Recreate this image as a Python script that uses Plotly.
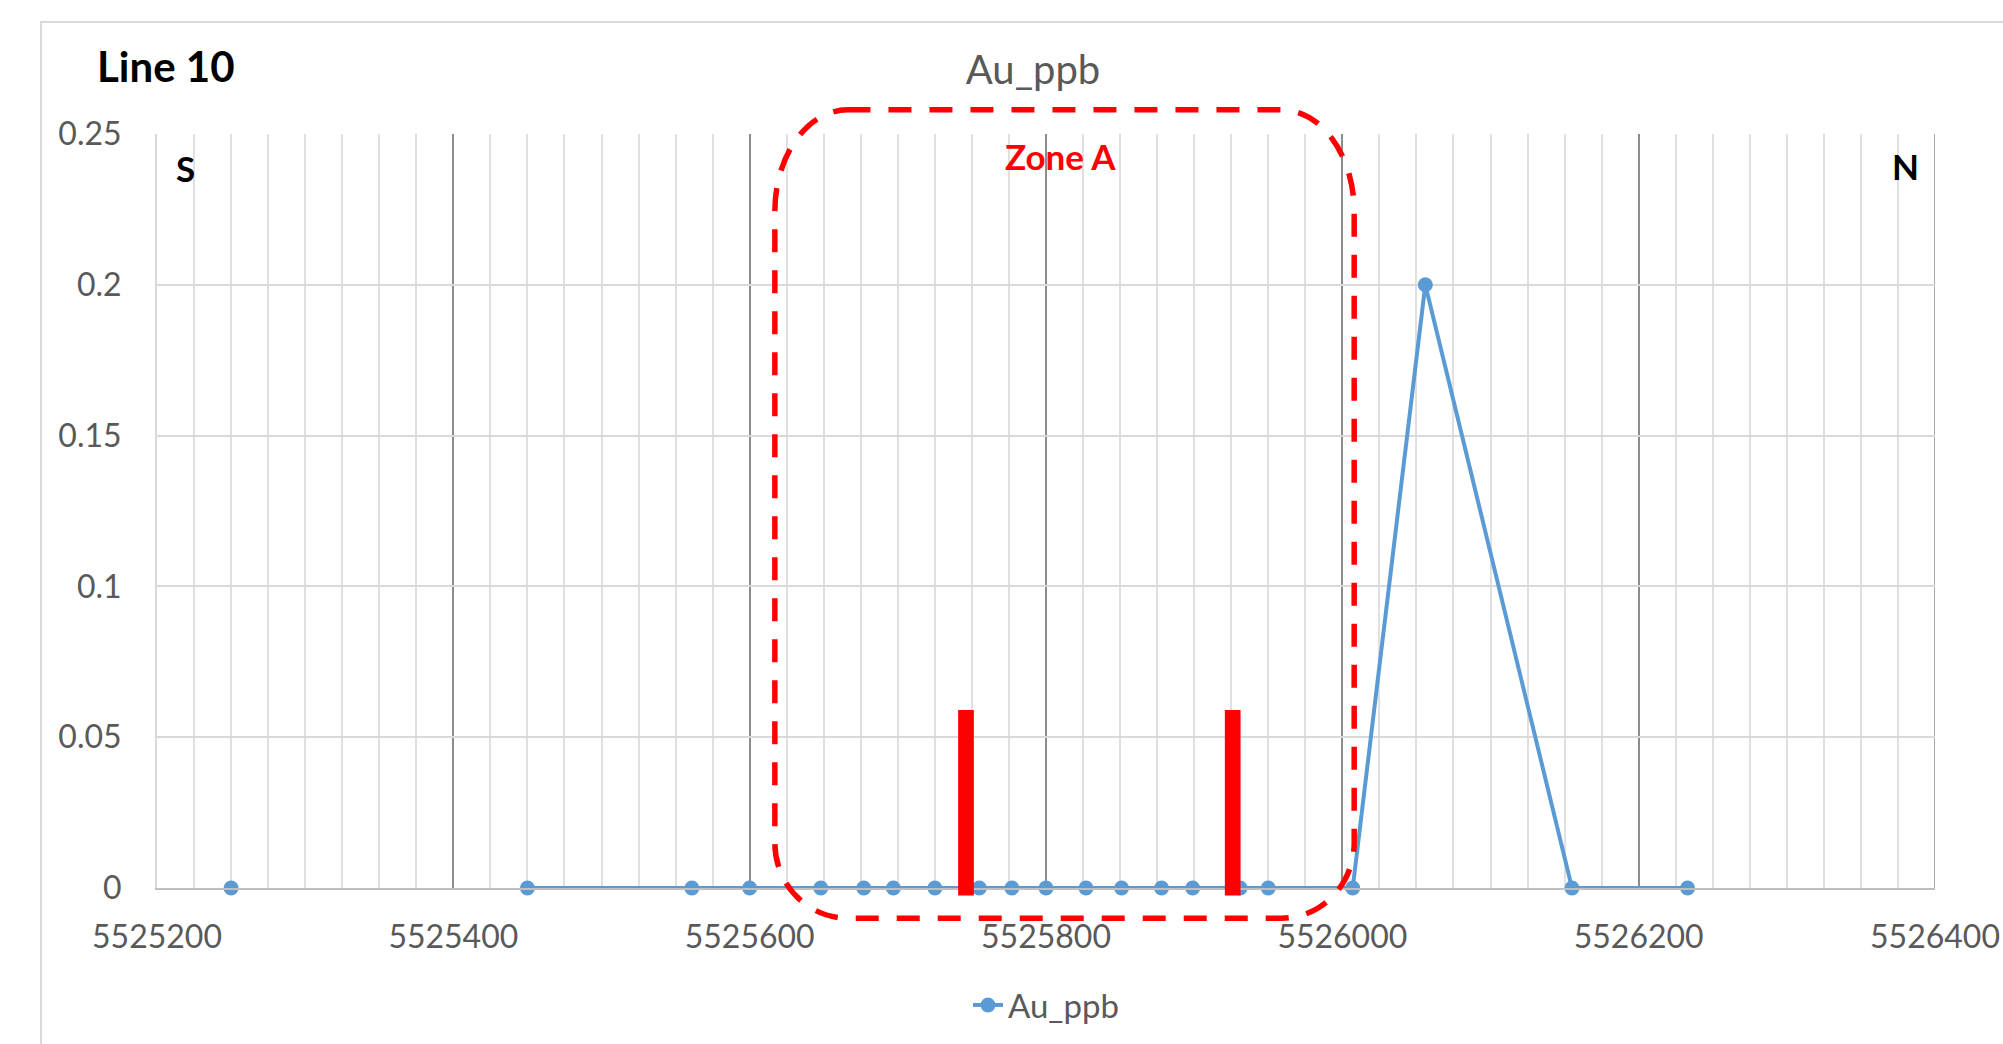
import plotly.graph_objects as go

# ---------------- data ----------------
positions = [5525250, 5525350, 5525450, 5525561, 5525600, 5525648, 5525677, 5525697,
             5525725, 5525755, 5525777, 5525800, 5525827, 5525851, 5525878, 5525899,
             5525931, 5525950, 5526007, 5526056, 5526155, 5526233]
au_ppb = [0, None, 0, 0, 0, 0, 0, 0,
          0, 0, 0, 0, 0, 0, 0, 0,
          0, 0, 0, 0.2, 0, 0]

red_marker_x = [5525746, 5525926]
red_marker_top = [0.059, 0.059]
red_marker_base = -0.0025
red_marker_width = 10.6

zone_x = [5525617, 5526008]
zone_y = [-0.010, 0.258]

x_range = [5525200, 5526400]
y_range = [0, 0.25]
x_ticks = [5525200, 5525400, 5525600, 5525800, 5526000, 5526200, 5526400]
y_ticks = [0, 0.05, 0.1, 0.15, 0.2, 0.25]
y_tick_text = ["0", "0.05", "0.1", "0.15", "0.2", "0.25"]

# ---------------- styles ----------------
FONT = "Lato"
GRAY_TXT = "#595959"
BLUE = "#5b9bd5"
RED = "#ff0000"
MAJOR_GRID = "#8c8c8c"

W, H = 2003, 1044
ML, MR, MT, MB = 157, 68, 134, 156


def ypaper(v):
    return (v - y_range[0]) / (y_range[1] - y_range[0])


fig = go.Figure()

fig.add_trace(go.Scatter(
    x=positions, y=au_ppb, mode="lines+markers", name="Au_ppb",
    line=dict(color=BLUE, width=4),
    marker=dict(color=BLUE, size=15),
    connectgaps=False, cliponaxis=False,
))

shapes = []
# chart-area border
shapes.append(dict(type="rect", xref="paper", yref="paper",
                   x0=(41 - ML) / (W - ML - MR), x1=1.2,
                   y0=-0.4, y1=(H - MB - 22) / (H - MT - MB),
                   line=dict(color="#d9d9d9", width=2), layer="below"))
# right-edge major gridline
shapes.append(dict(type="line", xref="x", yref="paper",
                   x0=x_range[1], x1=x_range[1], y0=0, y1=1,
                   line=dict(color=MAJOR_GRID, width=1.5), layer="below"))

# red markers (vertical bars)
for xc, top in zip(red_marker_x, red_marker_top):
    shapes.append(dict(type="rect", xref="x", yref="paper",
                       x0=xc - red_marker_width / 2, x1=xc + red_marker_width / 2,
                       y0=ypaper(red_marker_base), y1=ypaper(top),
                       fillcolor=RED, line=dict(width=0), layer="above"))

# Zone A rounded dashed rectangle
L, R = zone_x
B, T = ypaper(zone_y[0]), ypaper(zone_y[1])
rx = 49.0
ryt = 0.135
ryb = 0.10
k = 0.5523
path = (
    f"M {L + rx},{T} L {R - rx},{T} "
    f"C {R - rx + rx * k},{T} {R},{T - ryt + ryt * k} {R},{T - ryt} "
    f"L {R},{B + ryb} "
    f"C {R},{B + ryb - ryb * k} {R - rx + rx * k},{B} {R - rx},{B} "
    f"L {L + rx},{B} "
    f"C {L + rx - rx * k},{B} {L},{B + ryb - ryb * k} {L},{B + ryb} "
    f"L {L},{T - ryt} "
    f"C {L},{T - ryt + ryt * k} {L + rx - rx * k},{T} {L + rx},{T} Z"
)
shapes.append(dict(type="path", xref="x", yref="paper", path=path,
                   line=dict(color=RED, width=5.5, dash="23px,18px"), layer="above"))

pw = W - ML - MR
ph = H - MT - MB
annotations = [
    dict(text="<b>Line 10</b>", xref="paper", yref="paper", x=(95 - ML) / pw, y=(H - MB - 66) / ph,
         xanchor="left", yanchor="middle", showarrow=False,
         font=dict(family=FONT, size=42, color="black")),
    dict(text="<b>S</b>", xref="paper", yref="paper", x=(185 - ML) / pw, y=(H - MB - 168) / ph,
         xanchor="center", yanchor="middle", showarrow=False,
         font=dict(family=FONT, size=35, color="black")),
    dict(text="<b>N</b>", xref="paper", yref="paper", x=(1905 - ML) / pw, y=(H - MB - 166) / ph,
         xanchor="center", yanchor="middle", showarrow=False,
         font=dict(family=FONT, size=35, color="black")),
    dict(text="<b>Zone A</b>", xref="paper", yref="paper", x=(1060 - ML) / pw, y=(H - MB - 156) / ph,
         xanchor="center", yanchor="middle", showarrow=False,
         font=dict(family=FONT, size=35, color=RED)),
]

fig.update_layout(
    width=W, height=H,
    margin=dict(l=ML, r=MR, t=MT, b=MB, pad=0, autoexpand=False),
    paper_bgcolor="white", plot_bgcolor="white",
    font=dict(family=FONT, size=32, color=GRAY_TXT),
    title=dict(text="Au_ppb", xref="container", yref="container",
               x=1033 / W, y=1 - 70 / H,
               xanchor="center", yanchor="middle",
               font=dict(family=FONT, size=40, color=GRAY_TXT)),
    showlegend=True,
    legend=dict(orientation="h", x=(1046 - ML) / pw, y=-117 / ph,
                xanchor="center", yanchor="middle",
                font=dict(family=FONT, size=33, color=GRAY_TXT),
                bgcolor="rgba(0,0,0,0)"),
    shapes=shapes,
    annotations=annotations,
)

fig.update_xaxes(
    range=x_range, tickvals=x_ticks, tickformat="d",
    showgrid=True, gridcolor=MAJOR_GRID, gridwidth=1.5,
    minor=dict(dtick=25, tick0=x_range[0], showgrid=True, gridcolor="#e0e0e0", gridwidth=1.5),
    showline=True, linecolor="#bfbfbf", linewidth=2,
    zeroline=False, ticks="", ticklabelstandoff=20, automargin=False,
    tickfont=dict(family=FONT, size=32, color=GRAY_TXT),
)
fig.update_yaxes(
    range=y_range, tickvals=y_ticks, ticktext=y_tick_text,
    showgrid=True, gridcolor="#d9d9d9", gridwidth=2,
    showline=True, linecolor="#d9d9d9", linewidth=2,
    zeroline=False, ticks="", ticklabelstandoff=27, automargin=False,
    tickfont=dict(family=FONT, size=32, color=GRAY_TXT),
)

fig.write_html("out.html", config={"displayModeBar": False},
               post_script="document.body.style.margin='0';")
